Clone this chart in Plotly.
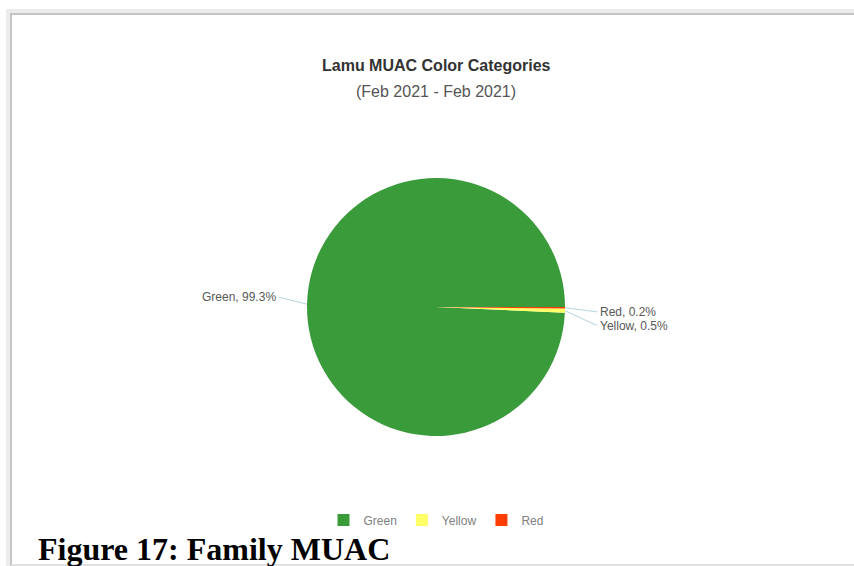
import math
import plotly.graph_objects as go

# MUAC colour categories for Lamu
categories = ["Green", "Yellow", "Red"]
shares = [99.3, 0.5, 0.2]
slice_colors = ["#3a9b3b", "#ffff66", "#ff3d00"]

title_text = "Lamu MUAC Color Categories"
subtitle_text = "(Feb 2021 - Feb 2021)"
caption_text = "Figure 17: Family MUAC"

W, H = 854, 566

# pie placement in pixels (converted to paper fractions below)
cx, cy, diam = 436, 307, 258
radius = diam / 2

# label text anchor offsets (pixels from the pie centre) and anchor sides
label_offsets = {"Green": (-158, -10), "Yellow": (162, 19), "Red": (162, 5)}
label_sides = {"Green": "right", "Yellow": "left", "Red": "left"}

total = sum(shares)
# slices run counterclockwise so the small ones end at 3 o'clock
rotation = 90 + (total - shares[0]) / total * 360

fig = go.Figure()
fig.add_trace(go.Pie(
    labels=categories,
    values=shares,
    marker=dict(colors=slice_colors, line=dict(width=0)),
    sort=False,
    direction="counterclockwise",
    rotation=rotation,
    textinfo="none",
    hoverinfo="label+percent",
    domain=dict(
        x=[(cx - radius) / W, (cx + radius) / W],
        y=[1 - (cy + radius) / H, 1 - (cy - radius) / H],
    ),
    showlegend=True,
))

# data labels with connector lines, placed at each slice's mid angle
annotations = []
end_angle = rotation + shares[0] / total * 360  # clockwise angle where the first slice begins
angle = end_angle
for name, val in zip(categories, shares):
    sweep = val / total * 360
    mid = math.radians(angle - sweep / 2)
    angle -= sweep
    tip_x = cx + radius * math.sin(mid)
    tip_y = cy - radius * math.cos(mid)
    ox, oy = label_offsets[name]
    annotations.append(dict(
        text=f"{name}, {val}%",
        x=tip_x / W, y=1 - tip_y / H, xref="paper", yref="paper",
        ax=(cx + ox) - tip_x, ay=(cy + oy) - tip_y,
        xanchor=label_sides[name], yanchor="middle",
        showarrow=True, arrowhead=0, arrowwidth=1, arrowcolor="#b7d4e0",
        standoff=0, startstandoff=1,
        font=dict(family="Liberation Sans, Arial, sans-serif", size=12, color="#585858"),
    ))

annotations += [
    dict(text=f"<b>{title_text}</b>", x=cx / W, y=1 - 66 / H, xref="paper", yref="paper",
         xanchor="center", yanchor="middle", showarrow=False,
         font=dict(family="Liberation Sans, Arial, sans-serif", size=16, color="#333333")),
    dict(text=subtitle_text, x=cx / W, y=1 - 91 / H, xref="paper", yref="paper",
         xanchor="center", yanchor="middle", showarrow=False,
         font=dict(family="Liberation Sans, Arial, sans-serif", size=16, color="#555555")),
    dict(text=f"<b>{caption_text}</b>", x=36 / W, y=1 - 549 / H, xref="paper", yref="paper",
         xanchor="left", yanchor="middle", showarrow=False,
         font=dict(family="Liberation Serif, Times New Roman, serif", size=32, color="#000000")),
]

shapes = [
    # soft shadow around the chart frame
    dict(type="rect", xref="paper", yref="paper",
         x0=8 / W, x1=1.2, y0=-0.2, y1=1 - 11 / H,
         line=dict(color="#ececec", width=4), fillcolor="rgba(0,0,0,0)", layer="below"),
    dict(type="rect", xref="paper", yref="paper",
         x0=11 / W, x1=1.2, y0=-0.2, y1=1 - 14 / H,
         line=dict(color="#c4c4c4", width=2), fillcolor="rgba(0,0,0,0)", layer="below"),
    # faint rule along the bottom edge
    dict(type="line", xref="paper", yref="paper",
         x0=11 / W, x1=1, y0=1 - 565 / H, y1=1 - 565 / H,
         line=dict(color="#e2e2e2", width=2), layer="below"),
]

fig.update_layout(
    width=W, height=H,
    margin=dict(l=0, r=0, t=0, b=0),
    paper_bgcolor="white",
    plot_bgcolor="white",
    shapes=shapes,
    annotations=annotations,
    legend=dict(
        orientation="h", x=cx / W, xanchor="center", y=1 - 520 / H, yanchor="middle",
        font=dict(family="Liberation Sans, Arial, sans-serif", size=12, color="#808080"),
        bgcolor="rgba(0,0,0,0)",
    ),
)

fig.write_html("out.html")
